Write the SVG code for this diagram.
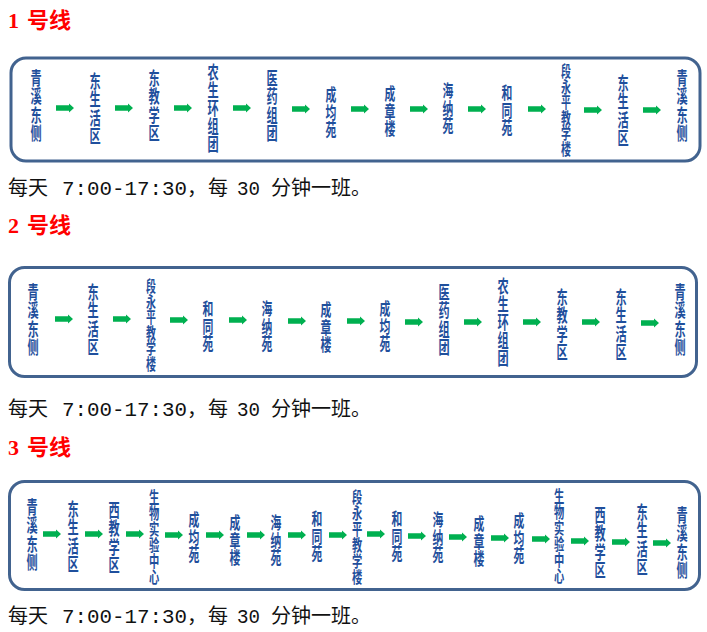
<svg xmlns="http://www.w3.org/2000/svg" xmlns:xlink="http://www.w3.org/1999/xlink" width="707" height="632" viewBox="0 0 707 632">
<style>
.title{font-family:"Liberation Serif","Noto Sans CJK SC",serif;font-weight:700;font-size:22px;fill:#ff0000}
.box{fill:#ffffff;stroke:#42638f;stroke-width:3}
.st{font-family:"Noto Sans CJK SC",sans-serif;font-weight:700;fill:#1f4f9c;text-anchor:middle;writing-mode:vertical-rl;text-orientation:upright}
.s3{font-size:17.5px}.s4{font-size:18px;letter-spacing:0.5px}.s5{font-size:18px}.s6{font-size:15.5px}.s6b{font-size:16px}
.sch{font-family:"Noto Sans CJK SC",sans-serif;font-size:20px;fill:#111111}
.num{font-family:"Liberation Mono",monospace}
</style>
<defs>
<polygon id="arr" points="0,-2.7 13,-2.7 13,-4.6 18,0 13,4.6 13,2.7 0,2.7" fill="#00b050"/>
</defs>
<rect width="707" height="632" fill="#ffffff"/>

<!-- Line 1 -->
<text class="title" x="8" y="28">1<tspan x="27">号线</tspan></text>
<rect class="box" x="11" y="58" width="689" height="103" rx="15"/>
<g id="l1-n1" transform="translate(36,106) scale(0.62,1)"><text class="st s4" x="0" y="0">青溪东侧</text></g>
<g id="l1-n2" transform="translate(95,109) scale(0.62,1)"><text class="st s4" x="0" y="0">东生活区</text></g>
<g id="l1-n3" transform="translate(154,106) scale(0.62,1)"><text class="st s4" x="0" y="0">东教学区</text></g>
<g id="l1-n4" transform="translate(213,108) scale(0.62,1)"><text class="st s5" x="0" y="0">农生环组团</text></g>
<g id="l1-n5" transform="translate(272,106) scale(0.62,1)"><text class="st s4" x="0" y="0">医药组团</text></g>
<g id="l1-n6" transform="translate(331,112) scale(0.62,1)"><text class="st s3" x="0" y="0">成均苑</text></g>
<g id="l1-n7" transform="translate(390,111) scale(0.62,1)"><text class="st s3" x="0" y="0">成章楼</text></g>
<g id="l1-n8" transform="translate(448,108) scale(0.62,1)"><text class="st s3" x="0" y="0">海纳苑</text></g>
<g id="l1-n9" transform="translate(507,110) scale(0.62,1)"><text class="st s3" x="0" y="0">和同苑</text></g>
<g id="l1-n10" transform="translate(566,110) scale(0.64,1)"><text class="st s6" x="0" y="0">段永平教学楼</text></g>
<g id="l1-n11" transform="translate(623,111) scale(0.62,1)"><text class="st s4" x="0" y="0">东生活区</text></g>
<g id="l1-n12" transform="translate(682,106) scale(0.62,1)"><text class="st s4" x="0" y="0">青溪东侧</text></g>
<g id="l1-connectors">
<use xlink:href="#arr" x="56" y="108"/><use xlink:href="#arr" x="115" y="108"/><use xlink:href="#arr" x="174" y="108"/><use xlink:href="#arr" x="233" y="108"/><use xlink:href="#arr" x="292" y="109"/><use xlink:href="#arr" x="351" y="109"/><use xlink:href="#arr" x="410" y="109"/><use xlink:href="#arr" x="468" y="109"/><use xlink:href="#arr" x="528" y="109"/><use xlink:href="#arr" x="584" y="110"/><use xlink:href="#arr" x="643" y="110"/>
</g>
<text class="sch" y="195"><tspan x="8">每天</tspan><tspan class="num" x="62" textLength="125" lengthAdjust="spacingAndGlyphs">7:00-17:30</tspan><tspan x="187">，</tspan><tspan x="208">每</tspan><tspan class="num" x="237" textLength="23" lengthAdjust="spacingAndGlyphs">30</tspan><tspan x="271">分钟一班。</tspan></text>

<!-- Line 2 -->
<text class="title" x="8" y="233">2<tspan x="27">号线</tspan></text>
<rect class="box" x="9.5" y="267.5" width="687" height="109" rx="15"/>
<g id="l2-n1" transform="translate(33,320) scale(0.62,1)"><text class="st s4" x="0" y="0">青溪东侧</text></g>
<g id="l2-n2" transform="translate(93,320) scale(0.62,1)"><text class="st s4" x="0" y="0">东生活区</text></g>
<g id="l2-n3" transform="translate(151,325) scale(0.64,1)"><text class="st s6" x="0" y="0">段永平教学楼</text></g>
<g id="l2-n4" transform="translate(208,326) scale(0.62,1)"><text class="st s3" x="0" y="0">和同苑</text></g>
<g id="l2-n5" transform="translate(267,326) scale(0.62,1)"><text class="st s3" x="0" y="0">海纳苑</text></g>
<g id="l2-n6" transform="translate(326,327) scale(0.62,1)"><text class="st s3" x="0" y="0">成章楼</text></g>
<g id="l2-n7" transform="translate(385,326) scale(0.62,1)"><text class="st s3" x="0" y="0">成均苑</text></g>
<g id="l2-n8" transform="translate(444,320) scale(0.62,1)"><text class="st s4" x="0" y="0">医药组团</text></g>
<g id="l2-n9" transform="translate(503,322) scale(0.62,1)"><text class="st s5" x="0" y="0">农生环组团</text></g>
<g id="l2-n10" transform="translate(562,325) scale(0.62,1)"><text class="st s4" x="0" y="0">东教学区</text></g>
<g id="l2-n11" transform="translate(621,325) scale(0.62,1)"><text class="st s4" x="0" y="0">东生活区</text></g>
<g id="l2-n12" transform="translate(680,320) scale(0.62,1)"><text class="st s4" x="0" y="0">青溪东侧</text></g>
<g id="l2-connectors">
<use xlink:href="#arr" x="55" y="319"/><use xlink:href="#arr" x="113" y="319"/><use xlink:href="#arr" x="170" y="320"/><use xlink:href="#arr" x="229" y="320"/><use xlink:href="#arr" x="288" y="321"/><use xlink:href="#arr" x="347" y="321"/><use xlink:href="#arr" x="405" y="322"/><use xlink:href="#arr" x="464" y="322"/><use xlink:href="#arr" x="523" y="322"/><use xlink:href="#arr" x="582" y="322"/><use xlink:href="#arr" x="641" y="323"/>
</g>
<text class="sch" y="416"><tspan x="8">每天</tspan><tspan class="num" x="62" textLength="125" lengthAdjust="spacingAndGlyphs">7:00-17:30</tspan><tspan x="187">，</tspan><tspan x="208">每</tspan><tspan class="num" x="237" textLength="23" lengthAdjust="spacingAndGlyphs">30</tspan><tspan x="271">分钟一班。</tspan></text>

<!-- Line 3 -->
<text class="title" x="8" y="455">3<tspan x="27">号线</tspan></text>
<rect class="box" x="9.5" y="481.5" width="690" height="108" rx="15"/>
<g id="l3-n1" transform="translate(32,535) scale(0.62,1)"><text class="st s4" x="0" y="0">青溪东侧</text></g>
<g id="l3-n2" transform="translate(73,537) scale(0.62,1)"><text class="st s4" x="0" y="0">东生活区</text></g>
<g id="l3-n3" transform="translate(114,538) scale(0.62,1)"><text class="st s4" x="0" y="0">西教学区</text></g>
<g id="l3-n4" transform="translate(154,537) scale(0.64,1)"><text class="st s6b" x="0" y="0">生物实验中心</text></g>
<g id="l3-n5" transform="translate(194,537) scale(0.62,1)"><text class="st s3" x="0" y="0">成均苑</text></g>
<g id="l3-n6" transform="translate(235,540) scale(0.62,1)"><text class="st s3" x="0" y="0">成章楼</text></g>
<g id="l3-n7" transform="translate(276,540) scale(0.62,1)"><text class="st s3" x="0" y="0">海纳苑</text></g>
<g id="l3-n8" transform="translate(317,536) scale(0.62,1)"><text class="st s3" x="0" y="0">和同苑</text></g>
<g id="l3-n9" transform="translate(357,537) scale(0.64,1)"><text class="st s6b" x="0" y="0">段永平教学楼</text></g>
<g id="l3-n10" transform="translate(397,536) scale(0.62,1)"><text class="st s3" x="0" y="0">和同苑</text></g>
<g id="l3-n11" transform="translate(438,537) scale(0.62,1)"><text class="st s3" x="0" y="0">海纳苑</text></g>
<g id="l3-n12" transform="translate(479,541) scale(0.62,1)"><text class="st s3" x="0" y="0">成章楼</text></g>
<g id="l3-n13" transform="translate(519,538) scale(0.62,1)"><text class="st s3" x="0" y="0">成均苑</text></g>
<g id="l3-n14" transform="translate(559,536) scale(0.64,1)"><text class="st s6b" x="0" y="0">生物实验中心</text></g>
<g id="l3-n15" transform="translate(600,543) scale(0.62,1)"><text class="st s4" x="0" y="0">西教学区</text></g>
<g id="l3-n16" transform="translate(642,540) scale(0.62,1)"><text class="st s4" x="0" y="0">东生活区</text></g>
<g id="l3-n17" transform="translate(682,543) scale(0.62,1)"><text class="st s4" x="0" y="0">青溪东侧</text></g>
<g id="l3-connectors">
<use xlink:href="#arr" x="43" y="534"/><use xlink:href="#arr" x="85" y="534"/><use xlink:href="#arr" x="126" y="534"/><use xlink:href="#arr" x="165" y="535"/><use xlink:href="#arr" x="206" y="535"/><use xlink:href="#arr" x="247" y="535"/><use xlink:href="#arr" x="288" y="535"/><use xlink:href="#arr" x="329" y="535"/><use xlink:href="#arr" x="367" y="534"/><use xlink:href="#arr" x="408" y="536"/><use xlink:href="#arr" x="449" y="537"/><use xlink:href="#arr" x="491" y="538"/><use xlink:href="#arr" x="532" y="539"/><use xlink:href="#arr" x="571" y="541"/><use xlink:href="#arr" x="612" y="542"/><use xlink:href="#arr" x="653" y="543"/>
</g>
<text class="sch" y="623"><tspan x="8">每天</tspan><tspan class="num" x="62" textLength="125" lengthAdjust="spacingAndGlyphs">7:00-17:30</tspan><tspan x="187">，</tspan><tspan x="208">每</tspan><tspan class="num" x="237" textLength="23" lengthAdjust="spacingAndGlyphs">30</tspan><tspan x="271">分钟一班。</tspan></text>
</svg>
